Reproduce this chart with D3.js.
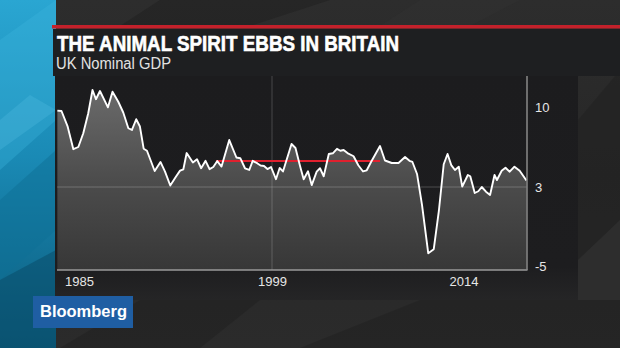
<!DOCTYPE html>
<html><head><meta charset="utf-8">
<script src="https://cdn.jsdelivr.net/npm/d3@7"></script>
<style>html,body{margin:0;padding:0;background:#262626;overflow:hidden}</style>
</head><body><svg id="c" width="620" height="348"></svg>
<script>
// ---------- data ----------
const titleText = "THE ANIMAL SPIRIT EBBS IN BRITAIN";
const subtitleText = "UK Nominal GDP";
const brandText = "Bloomberg";
const dates = [1983.43,1983.73,1984.18,1984.59,1984.95,1985.31,1985.67,1985.98,1986.23,1986.52,
  1987.10,1987.43,1987.85,1988.21,1988.58,1988.84,1989.15,1989.42,1989.69,1989.93,
  1990.49,1990.91,1991.24,1991.62,1992.04,1992.33,1992.57,1992.81,1993.26,1993.56,
  1993.86,1994.18,1994.47,1994.74,1995.03,1995.34,1995.90,1996.42,1996.70,1997.04,
  1997.35,1997.60,1997.95,1998.17,1998.42,1998.67,1998.93,1999.31,1999.60,1999.86,
  2000.53,2000.84,2001.19,2001.48,2001.82,2002.11,2002.50,2002.76,2003.05,2003.45,
  2003.76,2004.09,2004.35,2004.61,2004.91,2005.39,2005.76,2006.13,2006.42,2006.78,
  2007.46,2007.85,2008.38,2008.91,2009.42,2009.77,2010.00,2010.36,2010.75,2011.24,
  2011.67,2012.07,2012.45,2012.75,2013.04,2013.33,2013.63,2013.90,2014.34,2014.53,
  2014.88,2015.16,2015.43,2015.76,2016.08,2016.43,2016.62,2016.99,2017.29,2017.62,
  2017.99,2018.40,2018.93];
const values = [9.68,9.65,8.28,6.31,6.50,7.70,9.45,11.49,10.68,11.40,
  9.97,11.34,10.46,9.52,8.14,7.99,8.93,8.29,6.35,6.17,
  4.40,5.19,4.34,3.13,3.92,4.43,4.55,5.97,5.14,5.43,
  4.64,5.29,4.56,4.75,5.27,4.79,7.11,5.58,5.52,4.64,
  4.49,5.29,5.06,4.88,4.84,4.57,4.75,3.68,4.66,4.36,
  6.76,6.41,4.86,3.68,4.38,3.17,4.34,4.64,3.94,5.89,
  5.95,6.34,6.17,6.24,5.97,5.69,4.90,4.36,4.46,5.23,
  6.59,5.32,5.10,5.10,5.62,5.29,5.19,4.14,1.18,-3.71,
  -3.30,0.57,4.99,5.89,4.92,4.49,4.78,3.03,4.05,3.94,
  2.39,2.57,3.00,2.52,2.19,4.05,3.61,4.42,4.68,4.34,
  4.78,4.42,3.57];
const xTickValues = [1985, 1999, 2014];
const xTickLabels = ["1985", "1999", "2014"];
const yTickValues = [10, 3, -5];
const yTickLabels = ["10", "3", "-5"];
const avgDates = [1994.94, 2007.46];
const avgValue = 5.27;

// ---------- layout ----------
const W = 620, H = 348;
const P = {left: 57, right: 527, top: 76, bottom: 270};
const svg = d3.select("#c");
const defs = svg.append("defs");

function lg(id, x1, y1, x2, y2, stops, user) {
  const g = defs.append("linearGradient").attr("id", id)
    .attr("x1", x1).attr("y1", y1).attr("x2", x2).attr("y2", y2);
  if (user) g.attr("gradientUnits", "userSpaceOnUse");
  stops.forEach(s => g.append("stop").attr("offset", s[0]).attr("stop-color", s[1]));
}
lg("bgG", 0, 0, 0, 1, [[0, "#2d2d2d"], [0.5, "#272727"], [1, "#2b2b2b"]]);
lg("blueG", 0, 0, 0, 1, [[0, "#2aa6d2"], [0.45, "#1a8ab5"], [1, "#0b5a7a"]]);
lg("areaG", 0, 85, 0, 270, [[0, "#6c6c6c"], [0.5, "#4d4d4d"], [1, "#373737"]], true);
lg("panelG", 0, 76, 0, 300, [[0, "#1c1c1e"], [0.85, "#1d1d1f"], [1, "#252526"]], true);

// background
svg.append("rect").attr("width", W).attr("height", H).attr("fill", "url(#bgG)");
const facetsDark = [
  [[160,0],[330,0],[250,26],[120,26]],
  [[578,120],[620,70],[620,220],[578,260]],
  [[300,348],[420,300],[620,300],[620,348]],
  [[140,300],[260,300],[200,348],[60,348]]
];
facetsDark.forEach(p => svg.append("polygon").attr("points", p.join(" ")).attr("fill", "#222").attr("opacity", 0.6));
const facetsLight = [
  [[420,0],[520,0],[470,26],[380,26]],
  [[578,260],[620,220],[620,300],[578,300]]
];
facetsLight.forEach(p => svg.append("polygon").attr("points", p.join(" ")).attr("fill", "#303030").attr("opacity", 0.6));

// left blue strip
svg.append("rect").attr("x", 0).attr("y", 0).attr("width", 56).attr("height", H).attr("fill", "url(#blueG)");
const blueFacets = [
  {p: [[0,40],[56,0],[56,120],[0,170]], c: "#3bb4dc", o: 0.35},
  {p: [[0,200],[56,150],[56,230],[0,280]], c: "#0e6f96", o: 0.5},
  {p: [[0,280],[56,250],[56,348],[0,348]], c: "#094d6a", o: 0.55},
  {p: [[0,120],[30,95],[56,110],[0,150]], c: "#5ac4e6", o: 0.25}
];
blueFacets.forEach(f => svg.append("polygon").attr("points", f.p.join(" ")).attr("fill", f.c).attr("opacity", f.o));

// chart panel
svg.append("rect").attr("x", 53).attr("y", 29).attr("width", W - 53).attr("height", 47).attr("fill", "#1e1f21");
svg.append("rect").attr("x", 55).attr("y", 76).attr("width", 578 - 55).attr("height", 224).attr("fill", "url(#panelG)");
// red stripe
svg.append("rect").attr("x", 52).attr("y", 25).attr("width", W - 52).attr("height", 3.5).attr("fill", "#c4212b");

// titles
svg.append("text").attr("x", 57).attr("y", 50.5).text(titleText)
  .attr("fill", "#ffffff").attr("stroke", "#ffffff").attr("stroke-width", 0.6)
  .attr("font-family", "Liberation Sans, Arial, sans-serif")
  .attr("font-weight", "bold").attr("font-size", 22)
  .attr("textLength", 342).attr("lengthAdjust", "spacingAndGlyphs");
svg.append("text").attr("x", 56).attr("y", 68.5).text(subtitleText)
  .attr("fill", "#e2e2e2").attr("font-family", "Liberation Sans, Arial, sans-serif")
  .attr("font-size", 16).attr("textLength", 115).attr("lengthAdjust", "spacingAndGlyphs");

// scales
const x = d3.scaleLinear().domain(xTickValues).range([79, 272, 463.5]);
const y = d3.scaleLinear().domain([-5, 3, 10]).range([266, 187, 107]);

const data = dates.map((d, i) => ({date: d, value: values[i]}));

const plot = svg.append("g");
// area
plot.append("path").datum(data)
  .attr("d", d3.area().x(d => x(d.date)).y0(P.bottom).y1(d => y(d.value)))
  .attr("fill", "url(#areaG)");

// gridlines
plot.append("line").attr("x1", x(1999)).attr("x2", x(1999)).attr("y1", P.top).attr("y2", P.bottom)
  .attr("stroke", "#ffffff").attr("stroke-opacity", 0.16).attr("stroke-width", 1.2);
plot.append("line").attr("x1", P.left).attr("x2", P.right).attr("y1", y(3)).attr("y2", y(3))
  .attr("stroke", "#ffffff").attr("stroke-opacity", 0.14).attr("stroke-width", 1.5);

// average red line
plot.append("line").attr("x1", x(avgDates[0])).attr("x2", x(avgDates[1]))
  .attr("y1", y(avgValue)).attr("y2", y(avgValue))
  .attr("stroke", "#e0202e").attr("stroke-width", 2);

// main line
plot.append("path").datum(data)
  .attr("d", d3.line().x(d => x(d.date)).y(d => y(d.value)))
  .attr("fill", "none").attr("stroke", "#ffffff").attr("stroke-width", 1.9)
  .attr("stroke-linejoin", "round");

// frame
plot.append("line").attr("x1", P.left).attr("x2", P.right + 0.5).attr("y1", P.bottom).attr("y2", P.bottom)
  .attr("stroke", "#9a9a9a").attr("stroke-width", 1.5);
plot.append("line").attr("x1", P.right).attr("x2", P.right).attr("y1", P.top).attr("y2", P.bottom)
  .attr("stroke", "#8a8a8a").attr("stroke-width", 1.5);

// x axis
const xAxis = d3.axisBottom(x).tickValues(xTickValues).tickFormat((d, i) => xTickLabels[i]).tickSize(0).tickPadding(0);
const gx = svg.append("g").attr("transform", `translate(0,${P.bottom})`).call(xAxis);
gx.select(".domain").remove();
gx.selectAll("text").attr("fill", "#e6e6e6").attr("font-size", 13)
  .attr("font-family", "Liberation Sans, Arial, sans-serif").attr("dy", "1em").attr("y", 2.5);

// y axis
const yAxis = d3.axisRight(y).tickValues(yTickValues).tickFormat((d, i) => yTickLabels[i]).tickSize(0).tickPadding(0);
const gy = svg.append("g").attr("transform", `translate(535,0)`).call(yAxis);
gy.select(".domain").remove();
gy.selectAll("text").attr("fill", "#e6e6e6").attr("font-size", 13)
  .attr("font-family", "Liberation Sans, Arial, sans-serif");

// brand box
svg.append("rect").attr("x", 33).attr("y", 296).attr("width", 100).attr("height", 32).attr("fill", "#1f5ea3");
svg.append("text").attr("x", 40).attr("y", 317).text(brandText)
  .attr("fill", "#ffffff").attr("font-family", "Liberation Sans, Arial, sans-serif")
  .attr("font-weight", "bold").attr("font-size", 16.5)
  .attr("textLength", 87).attr("lengthAdjust", "spacingAndGlyphs");
</script></body></html>
